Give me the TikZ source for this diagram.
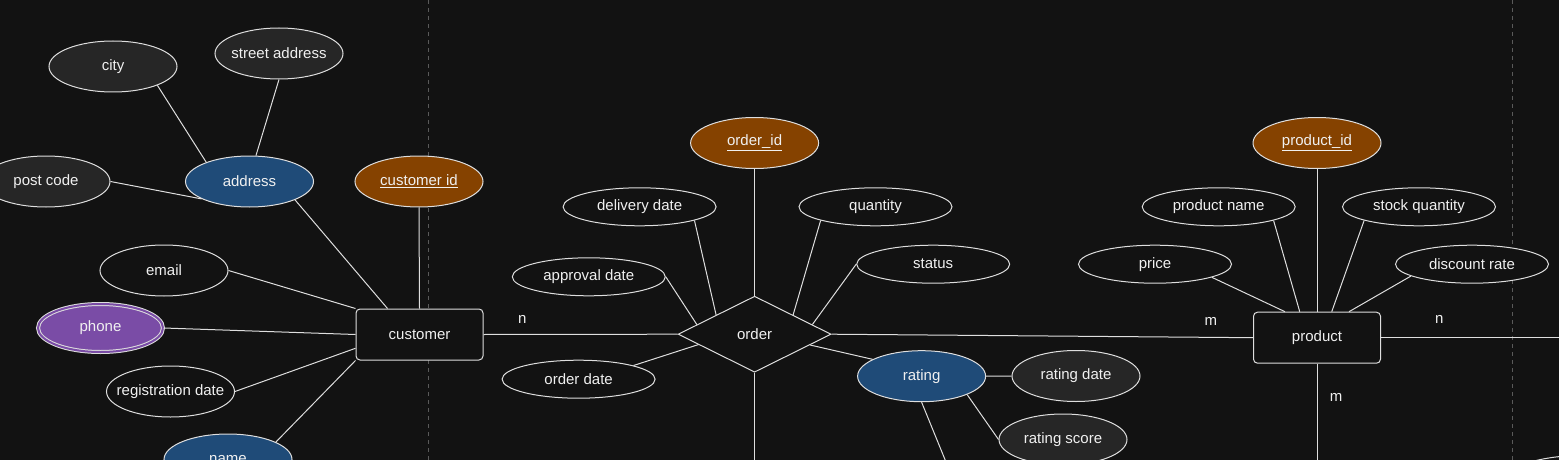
\documentclass[tikz,border=0pt]{standalone}
\usepackage{fontspec}
\setmainfont{Liberation Sans}
\usetikzlibrary{shapes.geometric,calc}
\definecolor{canvas}{HTML}{121212}
\definecolor{edgecol}{HTML}{DEDEDE}
\definecolor{txtcol}{HTML}{F0F0F0}
\definecolor{subfill}{HTML}{262626}
\definecolor{keyfill}{HTML}{854200}
\definecolor{compfill}{HTML}{1F4B78}
\definecolor{multfill}{HTML}{7A4CA6}
\definecolor{divcol}{HTML}{5A5A5A}
\tikzset{
  attr/.style={ellipse, draw=edgecol, line width=1pt, fill=canvas,
    minimum width=128pt, minimum height=51pt, inner xsep=-15pt, inner ysep=0pt},
  attrwide/.style={attr, minimum width=153pt, minimum height=38pt},
  subattr/.style={attr, fill=subfill},
  keyattr/.style={attr, fill=keyfill},
  compattr/.style={attr, fill=compfill},
  multattr/.style={attr, fill=multfill, double=multfill, double distance=2pt,
    minimum width=125pt, minimum height=48pt},
  entity/.style={rectangle, rounded corners=4pt, draw=edgecol, line width=1pt,
    fill=canvas, minimum width=127pt, minimum height=51pt},
  relation/.style={diamond, draw=edgecol, line width=1pt, fill=canvas,
    minimum width=153pt, minimum height=76pt, inner sep=0pt},
  link/.style={draw=edgecol, line width=1pt},
  card/.style={inner sep=0pt, text=txtcol},
  divider/.style={draw=divcol, line width=1pt, dash pattern=on 4pt off 4pt},
}

\begin{document}
\begin{tikzpicture}[x=1pt,y=-1pt,
    every node/.style={font=\fontsize{15pt}{18pt}\selectfont, text=txtcol}]
        \useasboundingbox (0,0) rectangle (1559,460);
        \fill[canvas] (0,0) rectangle (1559,460);
        \clip (0,0) rectangle (1559,460);

        % swimlane dividers
        \draw[divider] (428,0) -- (428,460);
        \draw[divider] (1512,0) -- (1512,460);

        % customer and its attributes
        \node[subattr] (city) at (113,66.5) {city};
        \node[subattr] (street) at (279,53.5) {street address};
        \node[subattr] (postcode) at (46,181.5) {post code};
        \node[compattr] (address) at (249.5,181.5) {address};
        \node[keyattr] (custid) at (419,181.5) {\underline{customer id}};
        \node[attr] (email) at (164,270.5) {email};
        \node[multattr] (phone) at (100.5,328) {phone};
        \node[attr] (regdate) at (170.5,391.5) {registration date};
        \node[compattr] (name) at (228,459.5) {name};
        \node[entity] (customer) at (419.5,334.5) {customer};

        % order relationship and its attributes
        \node[keyattr] (orderid) at (754.6,143) {\underline{order\_id}};
        \node[attrwide] (delivery) at (639.6,206.8) {delivery date};
        \node[attrwide] (quantity) at (875.5,206.8) {quantity};
        \node[attrwide] (approval) at (588.8,276.8) {approval date};
        \node[attrwide] (status) at (933.2,264.2) {status};
        \node[relation] (order) at (754.6,334.2) {order};
        \node[attrwide] (orderdate) at (578.6,379.2) {order date};
        \node[compattr] (rating) at (921.6,376.2) {rating};
        \node[subattr] (ratingdate) at (1076,376) {rating date};
        \node[subattr] (ratingscore) at (1063,439.5) {rating score};

        % product and its attributes
        \node[keyattr] (productid) at (1317,143) {\underline{product\_id}};
        \node[attrwide] (pname) at (1218.7,206.8) {product name};
        \node[attrwide] (stock) at (1419,206.8) {stock quantity};
        \node[attrwide] (price) at (1155,264.2) {price};
        \node[attrwide] (discount) at (1472,264.2) {discount rate};
        \node[entity] (product) at (1317,337.7) {product};
        \node[attrwide] (nextattr) at (1590,474) {};

        % free ends leaving the picture
        \coordinate (orderdown) at (754.6,475);
        \coordinate (ratingdown) at (951.3,475);
        \coordinate (productdown) at (1317,475);
        \coordinate (productright) at (1575,337.7);

        % customer links
        \draw[link] (city.-23) -- (address.156);
        \draw[link] (street.south) -- (address.76);
        \draw[link] (postcode.east) -- (address.200);
        \draw[link] (address.-22) -- ($(customer.north west)!.5!(customer.north)$);
        \draw[link] (custid.south) -- (customer.north);
        \draw[link] (email.east) -- (customer.north west);
        \draw[link] (phone.east) -- (customer.west);
        \draw[link] (regdate.east) -- ($(customer.west)!.53!(customer.south west)$);
        \draw[link] (name.20) -- (customer.south west);
        \draw[link] (customer.east) -- node[card, pos=.2, yshift=15pt] {n} (order.west);

        % order links
        \draw[link] (orderid.south) -- (order.north);
        \draw[link] (delivery.-14) -- ($(order.west)!.5!(order.north)$);
        \draw[link] (approval.east) -- ($(order.west)!.25!(order.north)$);
        \draw[link] (quantity.194) -- ($(order.north)!.5!(order.east)$);
        \draw[link] (status.west) -- ($(order.north)!.75!(order.east)$);
        \draw[link] (orderdate.14) -- ($(order.west)!.27!(order.south)$);
        \draw[link] (rating.161) -- ($(order.east)!.28!(order.south)$);
        \draw[link] (order.south) -- (orderdown);
        \draw[link] (order.east) -- node[card, pos=.9, yshift=16pt] {m} (product.west);

        % rating links
        \draw[link] (rating.east) -- (ratingdate.west);
        \draw[link] (rating.-22) -- (ratingscore.west);
        \draw[link] (rating.south) -- (ratingdown);

        % product links
        \draw[link] (productid.south) -- (product.north);
        \draw[link] (pname.-14) -- ($(product.north west)!.73!(product.north)$);
        \draw[link] (stock.194) -- ($(product.north)!.23!(product.north east)$);
        \draw[link] (price.-13) -- ($(product.north west)!.5!(product.north)$);
        \draw[link] (discount.191) -- ($(product.north)!.5!(product.north east)$);
        \draw[link] (product.east) -- node[card, pos=.3, yshift=18pt] {n} (productright);
        \draw[link] (product.south) -- node[card, pos=.3, xshift=19pt] {m} (productdown);
\end{tikzpicture}
\end{document}
